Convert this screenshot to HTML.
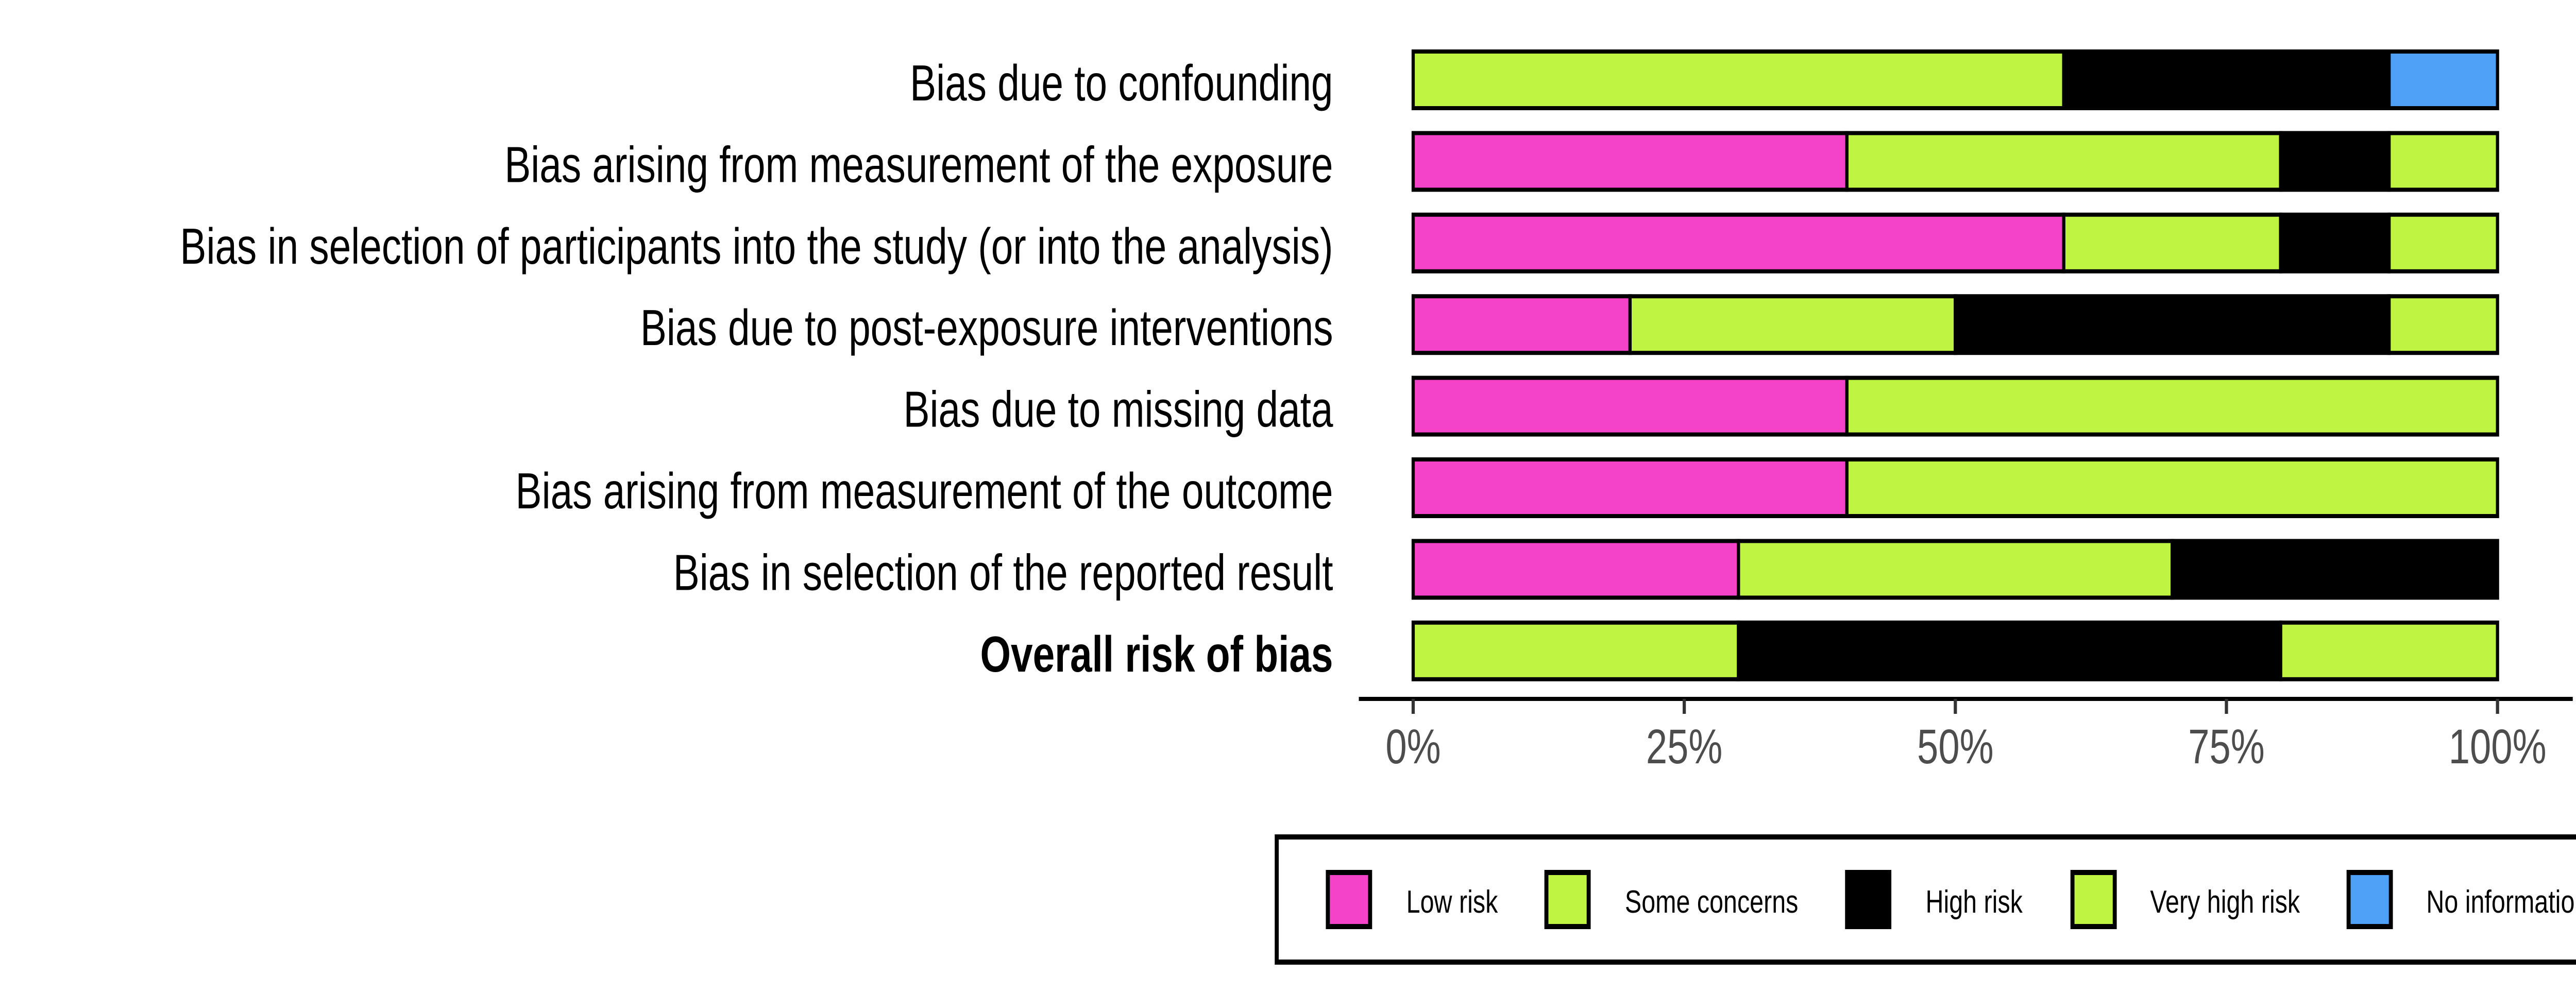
<!DOCTYPE html>
<html><head><meta charset="utf-8"><style>
html,body{margin:0;padding:0;background:#fff;overflow:hidden;width:100%;height:100%;}
svg{display:block;width:100vw;height:100vh;font-family:"Liberation Sans",Arial,sans-serif;}
</style></head><body>
<svg id="chart" viewBox="0 0 6400 1928" preserveAspectRatio="none" xmlns="http://www.w3.org/2000/svg">
<g id="labels"></g>
<g id="bars"></g>
<g id="axis"></g>
<g id="legend"></g>
</svg>
<script>
const domains = ["Bias due to confounding","Bias arising from measurement of the exposure","Bias in selection of participants into the study (or into the analysis)","Bias due to post-exposure interventions","Bias due to missing data","Bias arising from measurement of the outcome","Bias in selection of the reported result","Overall risk of bias"];
const categories = ["Low risk","Some concerns","High risk","Very high risk","No information"];
const lowRisk      = [0,0.4,0.6,0.2,0.4,0.4,0.3,0];
const someConcerns = [0.6,0.4,0.2,0.3,0.6,0.6,0.4,0.3];
const highRisk     = [0.3,0.1,0.1,0.4,0,0,0.3,0.5];
const veryHighRisk = [0,0.1,0.1,0.1,0,0,0,0.2];
const noInfo       = [0.1,0,0,0,0,0,0,0];
const tickValues = [0,0.25,0.5,0.75,1];
const tickLabels = ["0%","25%","50%","75%","100%"];
const colors = ["#F543C9","#BFF443","#000000","#BFF443","#4EA1F7"];
const series = [lowRisk,someConcerns,highRisk,veryHighRisk,noInfo];

const NS="http://www.w3.org/2000/svg";
const x0=3511,x1=6205;
const xs=v=>x0+v*(x1-x0);
const rowTop=i=>96+i*158.4;
const barH=118;
function mk(t,a,p){const e=document.createElementNS(NS,t);for(const k in a)e.setAttribute(k,a[k]);p.appendChild(e);return e;}

const lab=document.getElementById('labels'),bars=document.getElementById('bars'),ax=document.getElementById('axis'),lg=document.getElementById('legend');
domains.forEach((d,i)=>{
  const t=mk('text',{x:3312,y:rowTop(i)+barH/2+40,'text-anchor':'end','font-size':'98',fill:'#000','font-weight':i===domains.length-1?'bold':'normal'},lab);
  t.textContent=d;
  
  
  let acc=0;
  series.forEach((s,k)=>{
    const v=s[i]; if(v<=0){return;}
    const r=mk('rect',{x:xs(acc),y:rowTop(i)+4,width:xs(acc+v)-xs(acc),height:barH-8,fill:colors[k],stroke:'#000','stroke-width':8},bars);
    
    
    acc+=v;
  });
});
const al=mk('line',{x1:3376,x2:6392,y1:1357,y2:1357,stroke:'#000','stroke-width':8},ax);


tickValues.forEach((v,i)=>{
  const tk=mk('line',{x1:xs(v),x2:xs(v),y1:1357,y2:1386,stroke:'#333','stroke-width':8},ax);
  
  
  const t=mk('text',{x:xs(v),y:1482,'text-anchor':'middle','font-size':'95',fill:'#4D4D4D'},ax);
  t.textContent=tickLabels[i];
  
  
});
const box=mk('rect',{x:3172,y:1625,width:3400,height:243,fill:'none',stroke:'#000','stroke-width':10},lg);


const keyX=[3294,3837,4584,5144,5830],txtX=[3494,4037,4784,5342,6028];
categories.forEach((c,i)=>{
  const r=mk('rect',{x:keyX[i]+5,y:1694,width:105,height:105,fill:colors[i],stroke:'#000','stroke-width':10},lg);
  
  
  const t=mk('text',{x:txtX[i],y:1772,'font-size':'62',fill:'#000'},lg);
  t.textContent=c;
  
  
});
</script>
</body></html>
